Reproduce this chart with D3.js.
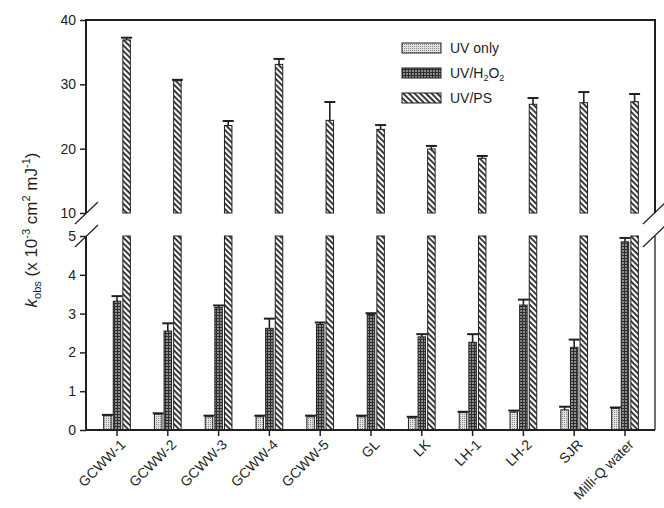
<!DOCTYPE html>
<html><head><meta charset="utf-8">
<script src="https://cdn.jsdelivr.net/npm/d3@7"></script>
<style>body{margin:0;background:#fff}svg{display:block;font-family:"Liberation Sans",Arial,sans-serif}</style>
</head><body><svg id="c" width="664" height="508"></svg>
<script>
const categories = ["GCWW-1","GCWW-2","GCWW-3","GCWW-4","GCWW-5","GL","LK","LH-1","LH-2","SJR","Milli-Q water"];
const seriesNames = ["UV only","UV/H2O2","UV/PS"];
const uvOnly    = [0.37,0.41,0.34,0.34,0.34,0.34,0.31,0.45,0.46,0.52,0.56];
const uvOnlyErr = [0.02,0.02,0.03,0.03,0.03,0.03,0.03,0.02,0.04,0.08,0.02];
const uvH2O2    = [3.32,2.55,3.16,2.62,2.72,2.98,2.40,2.26,3.22,2.13,4.85];
const uvH2O2Err = [0.13,0.20,0.05,0.25,0.05,0.03,0.07,0.21,0.14,0.20,0.10];
const uvPS      = [36.9,30.55,23.6,33.1,24.4,23.0,19.95,18.5,26.9,27.14,27.3];
const uvPSErr   = [0.35,0.15,0.7,0.85,2.85,0.67,0.47,0.36,0.97,1.66,1.2];
const topTicks = [10,20,30,40];
const bottomTicks = [0,1,2,3,4,5];

const svg = d3.select("#c");
const ink = "#231f20";
const L = 86, R = 655;
const x = d3.scaleBand().domain(categories).range([91.6, 650.4]);
const xi = d3.scaleBand().domain(seriesNames).range([-14.5, 14.5]).paddingInner(0.22).paddingOuter(0.12);
const yTop = d3.scaleLinear().domain([10,40]).range([213,20]);
const yBot = d3.scaleLinear().domain([0,5]).range([430,236]);

// patterns
const defs = svg.append("defs");
const p1 = defs.append("pattern").attr("id","pUV").attr("patternUnits","userSpaceOnUse").attr("width",2).attr("height",2);
p1.append("rect").attr("width",2).attr("height",2).attr("fill","#e2e2e2");
p1.append("rect").attr("width",1).attr("height",1).attr("fill","#8a8a8a");
const p2 = defs.append("pattern").attr("id","pH2").attr("patternUnits","userSpaceOnUse").attr("width",3).attr("height",3);
p2.append("rect").attr("width",3).attr("height",3).attr("fill","#8c8c8c");
p2.append("rect").attr("width",3).attr("height",1).attr("fill","#2e2e2e");
p2.append("rect").attr("width",1).attr("height",3).attr("fill","#2e2e2e");
const p3 = defs.append("pattern").attr("id","pPS").attr("patternUnits","userSpaceOnUse").attr("width",4).attr("height",4).attr("patternTransform","rotate(45)");
p3.append("rect").attr("width",4).attr("height",4).attr("fill","#fff");
p3.append("rect").attr("width",4).attr("height",1.7).attr("fill","#1a1a1a");
const fills = {"UV only":"url(#pUV)","UV/H2O2":"url(#pH2)","UV/PS":"url(#pPS)"};

const rows = [];
categories.forEach((c,i)=>{
  rows.push({c, s:"UV only", v:uvOnly[i], e:uvOnlyErr[i]});
  rows.push({c, s:"UV/H2O2", v:uvH2O2[i], e:uvH2O2Err[i]});
  rows.push({c, s:"UV/PS", v:uvPS[i], e:uvPSErr[i]});
});
const bx = d => x(d.c) + x.bandwidth()/2 + xi(d.s);
const bw = xi.bandwidth();
const capW = 11;

const gB = svg.append("g");
rows.forEach(d=>{
  const v = Math.min(d.v,5);
  gB.append("rect").attr("x",bx(d)).attr("y",yBot(v)).attr("width",bw).attr("height",yBot(0)-yBot(v))
    .attr("fill",fills[d.s]).attr("stroke",ink).attr("stroke-width",1);
  if (d.v + d.e <= 5) {
    const cx = bx(d)+bw/2;
    gB.append("line").attr("x1",cx).attr("x2",cx).attr("y1",yBot(d.v)).attr("y2",yBot(d.v+d.e)).attr("stroke",ink).attr("stroke-width",1.6);
    gB.append("line").attr("x1",cx-capW/2).attr("x2",cx+capW/2).attr("y1",yBot(d.v+d.e)).attr("y2",yBot(d.v+d.e)).attr("stroke",ink).attr("stroke-width",2);
  }
});
rows.filter(d=>d.v>10).forEach(d=>{
  gB.append("rect").attr("x",bx(d)).attr("y",yTop(d.v)).attr("width",bw).attr("height",yTop(10)-yTop(d.v))
    .attr("fill",fills[d.s]).attr("stroke",ink).attr("stroke-width",1);
  const cx = bx(d)+bw/2;
  gB.append("line").attr("x1",cx).attr("x2",cx).attr("y1",yTop(d.v)).attr("y2",yTop(d.v+d.e)).attr("stroke",ink).attr("stroke-width",1.6);
  gB.append("line").attr("x1",cx-capW/2).attr("x2",cx+capW/2).attr("y1",yTop(d.v+d.e)).attr("y2",yTop(d.v+d.e)).attr("stroke",ink).attr("stroke-width",2);
});

const axStyle = g => { g.select(".domain").remove(); g.selectAll("line").attr("stroke",ink).attr("stroke-width",1.5);
  g.selectAll("text").attr("fill","#231f20").attr("font-size",14); };
svg.append("g").attr("transform",`translate(${L},0)`).call(d3.axisLeft(yTop).tickValues(topTicks).tickFormat(d3.format("d")).tickSize(6).tickPadding(4)).call(axStyle);
svg.append("g").attr("transform",`translate(${L},0)`).call(d3.axisLeft(yBot).tickValues(bottomTicks).tickFormat(d3.format("d")).tickSize(6).tickPadding(4)).call(axStyle);
const xa = svg.append("g").attr("transform",`translate(0,430)`).call(d3.axisBottom(x).tickSize(6).tickPadding(4)).call(axStyle);
xa.selectAll(".tick text").remove();
xa.selectAll(".tick").append("text")
  .attr("transform","translate(6,12) rotate(-45)")
  .attr("dy","0.35em").attr("text-anchor","end")
  .attr("font-size",14).attr("fill",ink).text(d=>d);

const fl = (x1,y1,x2,y2,w) => svg.append("line").attr("x1",x1).attr("y1",y1).attr("x2",x2).attr("y2",y2).attr("stroke",ink).attr("stroke-width",w||2);
fl(L, yTop(40), L, yTop(10));
fl(L-1, yTop(40), R+1, yTop(40));
fl(R, yTop(40), R, yTop(10), 2);
fl(L, yBot(5), L, yBot(0)+1);
fl(L-1, yBot(0), R, yBot(0));
fl(R, yBot(5), R, yBot(0), 1.3);
[yTop(10), yBot(5)].forEach(yy=>{
  fl(L-11, yy+11, L+12, yy-11, 1.2);
  fl(R-12, yy+11, R+11, yy-11, 1.2);
});

const lg = svg.append("g");
seriesNames.forEach((s,i)=>{
  const yy = 48 + i*25;
  lg.append("rect").attr("x",402).attr("y",yy-5).attr("width",39).attr("height",10).attr("fill",fills[s]).attr("stroke",ink).attr("stroke-width",1);
  const t = lg.append("text").attr("x",450).attr("y",yy+5).attr("font-size",14).attr("fill",ink);
  if (s==="UV/H2O2") {
    t.append("tspan").text("UV/H");
    t.append("tspan").attr("font-size",9).attr("dy",3).text("2");
    t.append("tspan").attr("dy",-3).text("O");
    t.append("tspan").attr("font-size",9).attr("dy",3).text("2");
  } else t.text(s);
});

const yl = svg.append("text").attr("transform","translate(37,230) rotate(-90)").attr("text-anchor","middle").attr("font-size",17).attr("fill",ink);
yl.append("tspan").attr("font-style","italic").text("k");
yl.append("tspan").attr("font-size",11).attr("dy",4).text("obs");
yl.append("tspan").attr("dy",-4).text(" (x 10");
yl.append("tspan").attr("font-size",11).attr("dy",-7).text("-3");
yl.append("tspan").attr("dy",7).text(" cm");
yl.append("tspan").attr("font-size",11).attr("dy",-7).text("2");
yl.append("tspan").attr("dy",7).text(" mJ");
yl.append("tspan").attr("font-size",11).attr("dy",-7).text("-1");
yl.append("tspan").attr("dy",7).text(")");
</script></body></html>
